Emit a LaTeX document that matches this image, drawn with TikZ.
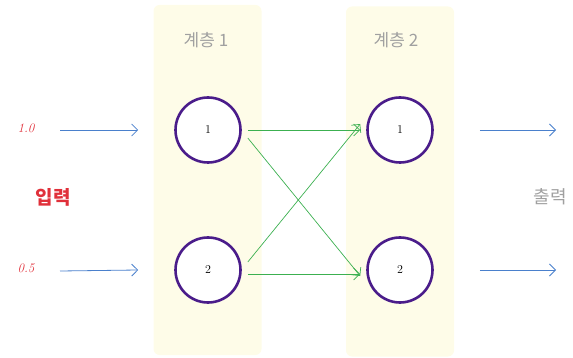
\documentclass[tikz,border=0pt]{standalone}
\usepackage{fontspec}
\newfontfamily\kr{Noto Sans CJK KR}
\usetikzlibrary{arrows.meta}
\definecolor{layerbg}{HTML}{FEFCE8}
\definecolor{nodeline}{HTML}{4A1C8A}
\definecolor{inblue}{HTML}{4A80CC}
\definecolor{edgegreen}{HTML}{3CB050}
\definecolor{inred}{HTML}{E0303A}
\definecolor{labgray}{HTML}{A0A0A0}
\tikzset{
  layer/.style={fill=layerbg, draw=none, rounded corners=6pt, minimum width=108pt, minimum height=350pt},
  neuron/.style={circle, draw=nodeline, line width=2.6pt, minimum size=65pt, fill=white, inner sep=0pt, font=\fontsize{12}{14}\selectfont},
  iarrow/.style={draw=inblue, line width=0.8pt, -{Straight Barb[length=6pt,width=12pt]}},
  edge/.style={draw=edgegreen, line width=0.7pt, -{Straight Barb[length=6pt,width=12pt]}},
  val/.style={text=inred, font=\fontsize{13}{15}\selectfont\itshape},
  title/.style={text=labgray, font=\kr\fontsize{17}{20}\selectfont},
}
\begin{document}
\begin{tikzpicture}[x=1pt,y=-1pt]
\useasboundingbox (0,0) rectangle (573,358);
\node[layer] (L1) at (207.5,180) {};
\node[layer] (L2) at (400,181.5) {};
\node[title] (t1) at (206,40) {계층 1};
\node[title] (t2) at (396,40) {계층 2};
\node[neuron] (a1) at (208,130) {1};
\node[neuron] (a2) at (208,270) {2};
\node[neuron] (b1) at (400,130) {1};
\node[neuron] (b2) at (400,270) {2};
\node[val] (v1) at (26,128) {1.0};
\node[val] (v2) at (26,268) {0.5};
\node[text=inred, font=\kr\bfseries\fontsize{19}{22}\selectfont] (in) at (53,197) {입력};
\node[text=labgray, font=\kr\fontsize{18}{21}\selectfont] (out) at (550,197) {출력};
\coordinate (i1) at (60,130);
\coordinate (i2) at (60,271);
\coordinate (o1) at (556,130);
\coordinate (o2) at (556,270);
\draw[iarrow] (i1) -- ([xshift=-36pt]a1.west);
\draw[iarrow] (i2) -- ([xshift=-36pt]a2.west);
\draw[iarrow] ([xshift=46pt]b1.east) -- (o1);
\draw[iarrow] ([xshift=46pt]b2.east) -- (o2);
\draw[edge] ([xshift=6pt]a1.east) -- ([xshift=-6pt]b1.west);
\draw[edge] ([xshift=6pt,yshift=-8pt]a1.east) -- ([xshift=-6pt,yshift=-6pt]b2.west);
\draw[edge] ([xshift=6pt,yshift=8pt]a2.east) -- ([xshift=-6pt,yshift=6pt]b1.west);
\draw[edge] ([xshift=6pt,yshift=-4pt]a2.east) -- ([xshift=-6pt,yshift=-4pt]b2.west);
\end{tikzpicture}
\end{document}
